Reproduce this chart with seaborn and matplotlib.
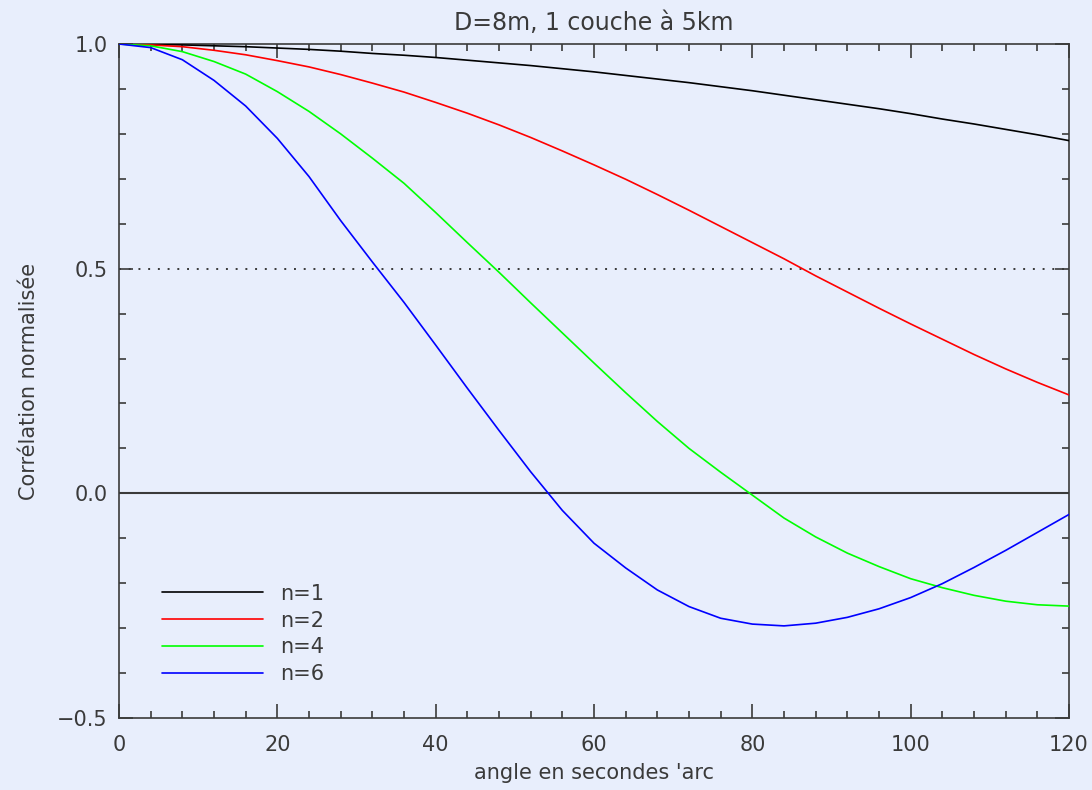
import matplotlib
matplotlib.use('agg')
import matplotlib.pyplot as plt
from matplotlib.ticker import MultipleLocator, FixedLocator
import pandas as pd
import seaborn as sns

# angle (arcsec), sampled every 4"
angle = [0, 4, 8, 12, 16, 20, 24, 28, 32, 36, 40, 44, 48, 52, 56, 60,
         64, 68, 72, 76, 80, 84, 88, 92, 96, 100, 104, 108, 112, 116, 120]

corr_n1 = [1.000, 0.999, 0.998, 0.996, 0.994, 0.991, 0.988, 0.984, 0.979, 0.975,
           0.970, 0.964, 0.958, 0.952, 0.945, 0.938, 0.930, 0.922, 0.914, 0.905,
           0.896, 0.886, 0.876, 0.866, 0.856, 0.845, 0.833, 0.822, 0.810, 0.798, 0.785]
corr_n2 = [1.000, 0.998, 0.994, 0.986, 0.976, 0.963, 0.949, 0.932, 0.913, 0.893,
           0.870, 0.846, 0.820, 0.792, 0.762, 0.731, 0.699, 0.665, 0.630, 0.594,
           0.558, 0.522, 0.484, 0.448, 0.412, 0.377, 0.343, 0.309, 0.277, 0.247, 0.219]
corr_n4 = [1.000, 0.996, 0.983, 0.961, 0.933, 0.894, 0.850, 0.800, 0.746, 0.690,
           0.625, 0.558, 0.492, 0.424, 0.357, 0.290, 0.224, 0.160, 0.100, 0.047,
           -0.004, -0.055, -0.097, -0.133, -0.163, -0.190, -0.210, -0.227, -0.240, -0.248, -0.251]
corr_n6 = [1.000, 0.992, 0.965, 0.919, 0.862, 0.790, 0.705, 0.607, 0.515, 0.425,
           0.330, 0.234, 0.140, 0.048, -0.038, -0.111, -0.166, -0.215, -0.252, -0.278,
           -0.291, -0.295, -0.289, -0.276, -0.257, -0.232, -0.201, -0.165, -0.127, -0.087, -0.047]

series_labels = ['n=1', 'n=2', 'n=4', 'n=6']
series_colors = ['#000000', '#ff0000', '#00ff00', '#0000ff']

bg = '#e8eefc'
fg = '#3a3a3a'

sns.set_style("white", {'axes.facecolor': bg, 'figure.facecolor': bg,
                        'axes.edgecolor': fg, 'text.color': fg,
                        'axes.labelcolor': fg, 'xtick.color': fg, 'ytick.color': fg})
plt.rcParams['font.family'] = ['DejaVu Sans']

fig = plt.figure(figsize=(10.92, 7.90), dpi=100)
ax = fig.add_axes([119/1092, 72/790, 950/1092, 674/790])

df = pd.DataFrame({'angle': angle * 4,
                   'corr': corr_n1 + corr_n2 + corr_n4 + corr_n6,
                   'n': sum([[s] * len(angle) for s in series_labels], [])})

ax.axhline(0.0, color=fg, lw=1.5, zorder=1)
ax.axhline(0.5, color=fg, lw=1.4, ls=(0, (1, 4)), zorder=1)

sns.lineplot(data=df, x='angle', y='corr', hue='n', palette=dict(zip(series_labels, series_colors)),
             lw=1.2, ax=ax, legend=False, zorder=3)

handles = [plt.Line2D([], [], color=c, lw=1.2) for c in series_colors]
ax.legend(handles, series_labels, loc='lower left', bbox_to_anchor=(0.045, 0.05),
          borderaxespad=0, borderpad=0,
          frameon=False, handlelength=4.85, handletextpad=0.85, labelspacing=0.33,
          fontsize=15, labelcolor=fg)

ax.set_xlim(0, 120)
ax.set_ylim(-0.5, 1.0)
ax.xaxis.set_major_locator(MultipleLocator(20))
ax.xaxis.set_minor_locator(MultipleLocator(4))
ax.yaxis.set_major_locator(FixedLocator([-0.5, 0.0, 0.5, 1.0]))
ax.yaxis.set_minor_locator(MultipleLocator(0.1))
ax.set_yticklabels(['\u22120.5', '0.0', '0.5', '1.0'])
ax.tick_params(which='both', direction='in', top=True, right=True, bottom=True, left=True, width=1.2)
ax.tick_params(which='major', length=10, labelsize=15)
ax.tick_params(axis='x', which='major', pad=12)
ax.tick_params(axis='y', which='major', pad=8)
ax.tick_params(which='minor', length=5)
for sp in ax.spines.values():
    sp.set_linewidth(1.2)

ax.set_title("D=8m, 1 couche à 5km", fontsize=17, pad=10, color=fg)
ax.set_xlabel("angle en secondes 'arc", fontsize=15, labelpad=6)
ax.set_ylabel("Corrélation normalisée", fontsize=15, labelpad=13)

fig.savefig('out.png', dpi=100, facecolor=bg)
